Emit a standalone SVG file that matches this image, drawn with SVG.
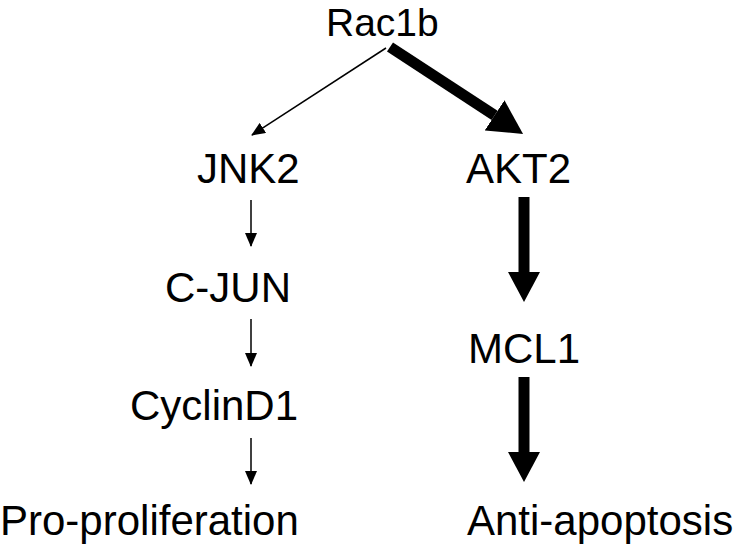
<svg xmlns="http://www.w3.org/2000/svg" width="737" height="544" viewBox="0 0 737 544">
<style>
text{font-family:"Liberation Sans",Arial,sans-serif;font-size:42px;fill:#000}
.thin{stroke:#000;stroke-width:1.5;fill:none}
.thick{stroke:#000;stroke-width:11;fill:none}
</style>
<defs>
<marker id="hThin" markerUnits="userSpaceOnUse" viewBox="0 0 14 12" markerWidth="14" markerHeight="12" refX="13" refY="6" orient="auto"><path d="M0,0 L14,6 L0,12 z" fill="#000"/></marker>
<marker id="hThick" markerUnits="userSpaceOnUse" viewBox="0 0 30 32" markerWidth="30" markerHeight="32" refX="0" refY="16" orient="auto"><path d="M0,0 L30,16 L0,32 z" fill="#000"/></marker>
<marker id="hThickD" markerUnits="userSpaceOnUse" viewBox="0 0 34 36" markerWidth="34" markerHeight="36" refX="0" refY="18" orient="auto"><path d="M0,0 L34,18 L0,36 z" fill="#000"/></marker>
</defs>
<rect width="737" height="544" fill="#fff"/>
<g id="connectors">
<line class="thin" x1="386" y1="48" x2="252" y2="135" marker-end="url(#hThin)"/>
<line class="thick" x1="390" y1="47" x2="494.6" y2="115.3" stroke-width="12" marker-end="url(#hThickD)"/>
<line class="thin" x1="251" y1="200" x2="251" y2="246" marker-end="url(#hThin)"/>
<line class="thin" x1="251" y1="319" x2="251" y2="366" marker-end="url(#hThin)"/>
<line class="thin" x1="251" y1="438" x2="251" y2="484" marker-end="url(#hThin)"/>
<line class="thick" x1="524" y1="197" x2="524" y2="272" marker-end="url(#hThick)"/>
<line class="thick" x1="524" y1="377" x2="524" y2="452" marker-end="url(#hThick)"/>
</g>
<g id="rac1b"><text x="326" y="36" style="font-size:39px">Rac1b</text></g>
<g id="jnk2"><text x="197" y="183">JNK2</text></g>
<g id="akt2"><text x="466" y="183">AKT2</text></g>
<g id="cjun"><text x="165" y="302">C-JUN</text></g>
<g id="mcl1"><text x="468" y="363">MCL1</text></g>
<g id="cyclind1"><text x="130" y="420">CyclinD1</text></g>
<g id="proproliferation"><text x="0" y="535">Pro-proliferation</text></g>
<g id="antiapoptosis"><text x="467" y="535">Anti-apoptosis</text></g>
</svg>
